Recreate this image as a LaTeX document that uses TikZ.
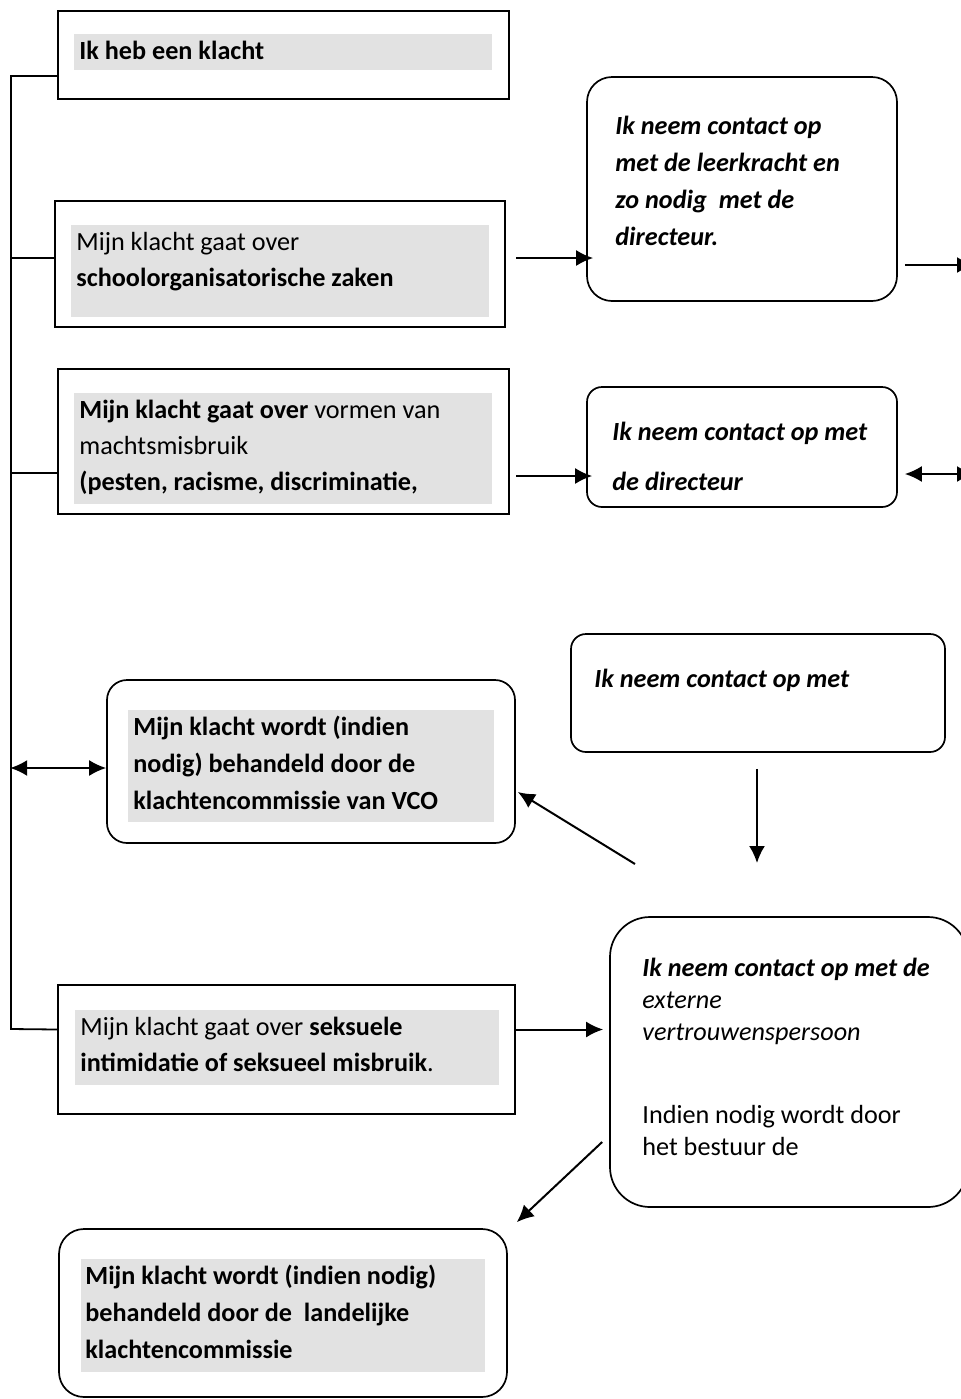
\documentclass[tikz,border=0pt]{standalone}
\usepackage{fontspec}
\setmainfont{Carlito}
\usetikzlibrary{arrows.meta,calc,fit,positioning}
\colorlet{bandgray}{gray!23}
\tikzset{
    boxsty/.style={draw,line width=1pt,inner sep=0pt},
    rboxsty/.style={draw,line width=0.85pt,inner sep=0pt,rounded corners=#1},
    bandsty/.style={fill=bandgray,inner sep=0pt},
    txtsty/.style={anchor=base west,align=left,inner sep=0pt,font=\fontsize{13.1}{#1}\selectfont},
    txtsty/.default=18,
    linesty/.style={line width=0.9pt},
    arwsty/.style={->,line width=1pt},
    dblsty/.style={<->,line width=1pt},
}
\newcommand{\bi}[1]{\textbf{\textit{#1}}}

\begin{document}
\begin{tikzpicture}[x=0.5pt,y=-0.5pt,>={Latex[length=8.5pt,width=8pt]}]
  \useasboundingbox (0,0) rectangle (961,1399);
  \clip (0,0) rectangle (961,1399);

  % linker kolom (tekst: basislijn van de laatste regel)
  \node[boxsty,fit={(58,11) (509,99)}] (klacht) {};
  \node[bandsty,fit={(74,34) (492,70)}] (klachtband) {};
  \node[txtsty] (klachttxt) at (79,59) {\textbf{Ik heb een klacht}};

  \node[boxsty,fit={(55,201) (505,327)}] (school) {};
  \node[bandsty,fit={(71,225) (489,317)}] (schoolband) {};
  \node[txtsty] (schooltxt) at (76,286) {Mijn klacht gaat over\\ \textbf{schoolorganisatorische zaken}};

  \node[boxsty,fit={(58,369) (509,514)}] (macht) {};
  \node[bandsty,fit={(74,393) (492,504)}] (machtband) {};
  \node[txtsty] (machttxt) at (79,490) {\textbf{Mijn klacht gaat over} vormen van\\ machtsmisbruik\\ \textbf{(pesten, racisme, discriminatie,}};

  \node[rboxsty=10pt,fit={(107,680) (515,843)}] (vco) {};
  \node[bandsty,fit={(128,710) (494,822)}] (vcoband) {};
  \node[txtsty=18.5] (vcotxt) at (133,809) {\textbf{Mijn klacht wordt (indien}\\ \textbf{nodig) behandeld door de}\\ \textbf{klachtencommissie van VCO}};

  \node[boxsty,fit={(58,985) (515,1114)}] (seks) {};
  \node[bandsty,fit={(75,1010) (499,1085)}] (seksband) {};
  \node[txtsty=17.8] (sekstxt) at (80,1071.5) {Mijn klacht gaat over \textbf{seksuele}\\ \textbf{intimidatie of seksueel misbruik}.};

  \node[rboxsty=12.5pt,fit={(59,1229) (507,1397)}] (landelijk) {};
  \node[bandsty,fit={(81,1259) (485,1372)}] (landelijkband) {};
  \node[txtsty=18.5] (landelijktxt) at (85,1358) {\textbf{Mijn klacht wordt (indien nodig)}\\ \textbf{behandeld door de\ \ landelijke}\\ \textbf{klachtencommissie}};

  % rechter kolom
  \node[rboxsty=12.5pt,fit={(587,77) (897,301)}] (leerkracht) {};
  \node[txtsty=18.5] (leerkrachttxt) at (615,245) {\bi{Ik neem contact op}\\ \bi{met de leerkracht en}\\ \bi{zo nodig\ \ met de}\\ \bi{directeur.}};

  \node[rboxsty=7.5pt,fit={(587,387) (897,507)}] (directeur) {};
  \node[txtsty=25] (directeurtxt) at (612,490) {\bi{Ik neem contact op met}\\ \bi{de directeur}};

  \node[rboxsty=7.5pt,fit={(571,634) (945,752)}] (contact) {};
  \node[txtsty] (contacttxt) at (594,687) {\bi{Ik neem contact op met}};

  \node[rboxsty=20pt,fit={(610,917) (968,1207)}] (extern) {};
  \node[txtsty=15.8] (externtxt) at (642,1040) {\bi{Ik neem contact op met de}\\ \textit{externe}\\ \textit{vertrouwenspersoon}};
  \node[txtsty=16] (bestuurtxt) at (642,1155) {Indien nodig wordt door\\ het bestuur de};

  % verbindingen
  \coordinate (stamtop) at (11,76);
  \coordinate (stambot) at (11,1029);
  \coordinate (uitA) at (974,265);
  \coordinate (uitB) at (974,474);
  \coordinate (midden) at (757,863);
  \coordinate (kruis) at (635,864);

  \draw[linesty] ($(klacht.west)+(0,21)$) -- (stamtop) -- (stambot) -- ($(seks.west)+(0,-20)$);
  \draw[linesty] ($(school.west)+(0,-6)$) -- +(-44,0);
  \draw[linesty] ($(macht.west)+(0,31.5)$) -- +(-47,0);
  \draw[dblsty] ($(vco.west)+(0,6.5)$) -- +(-96,0);

  \draw[arwsty] ($(school.east)+(10,-6)$) -- ($(leerkracht.west |- school.east)+(7,-6)$);
  \draw[arwsty] ($(macht.east)+(6,34.5)$) -- ($(directeur.west |- macht.east)+(6,34.5)$);
  \draw[arwsty] ($(leerkracht.east)+(7,76)$) -- (uitA);
  \draw[dblsty] ($(directeur.east)+(7,27)$) -- (uitB);
  \draw[arwsty] ($(contact.south)+(-1,16)$) -- (midden);
  \draw[arwsty] (kruis) -- ($(vco.east)+(2,30.5)$);
  \draw[arwsty] ($(seks.east)+(0,-20)$) -- ($(extern.west |- seks.east)+(-6,-20)$);
  \draw[arwsty] ($(extern.west)+(-7,80)$) -- ($(landelijk.north east)+(9,-6)$);
\end{tikzpicture}
\end{document}
